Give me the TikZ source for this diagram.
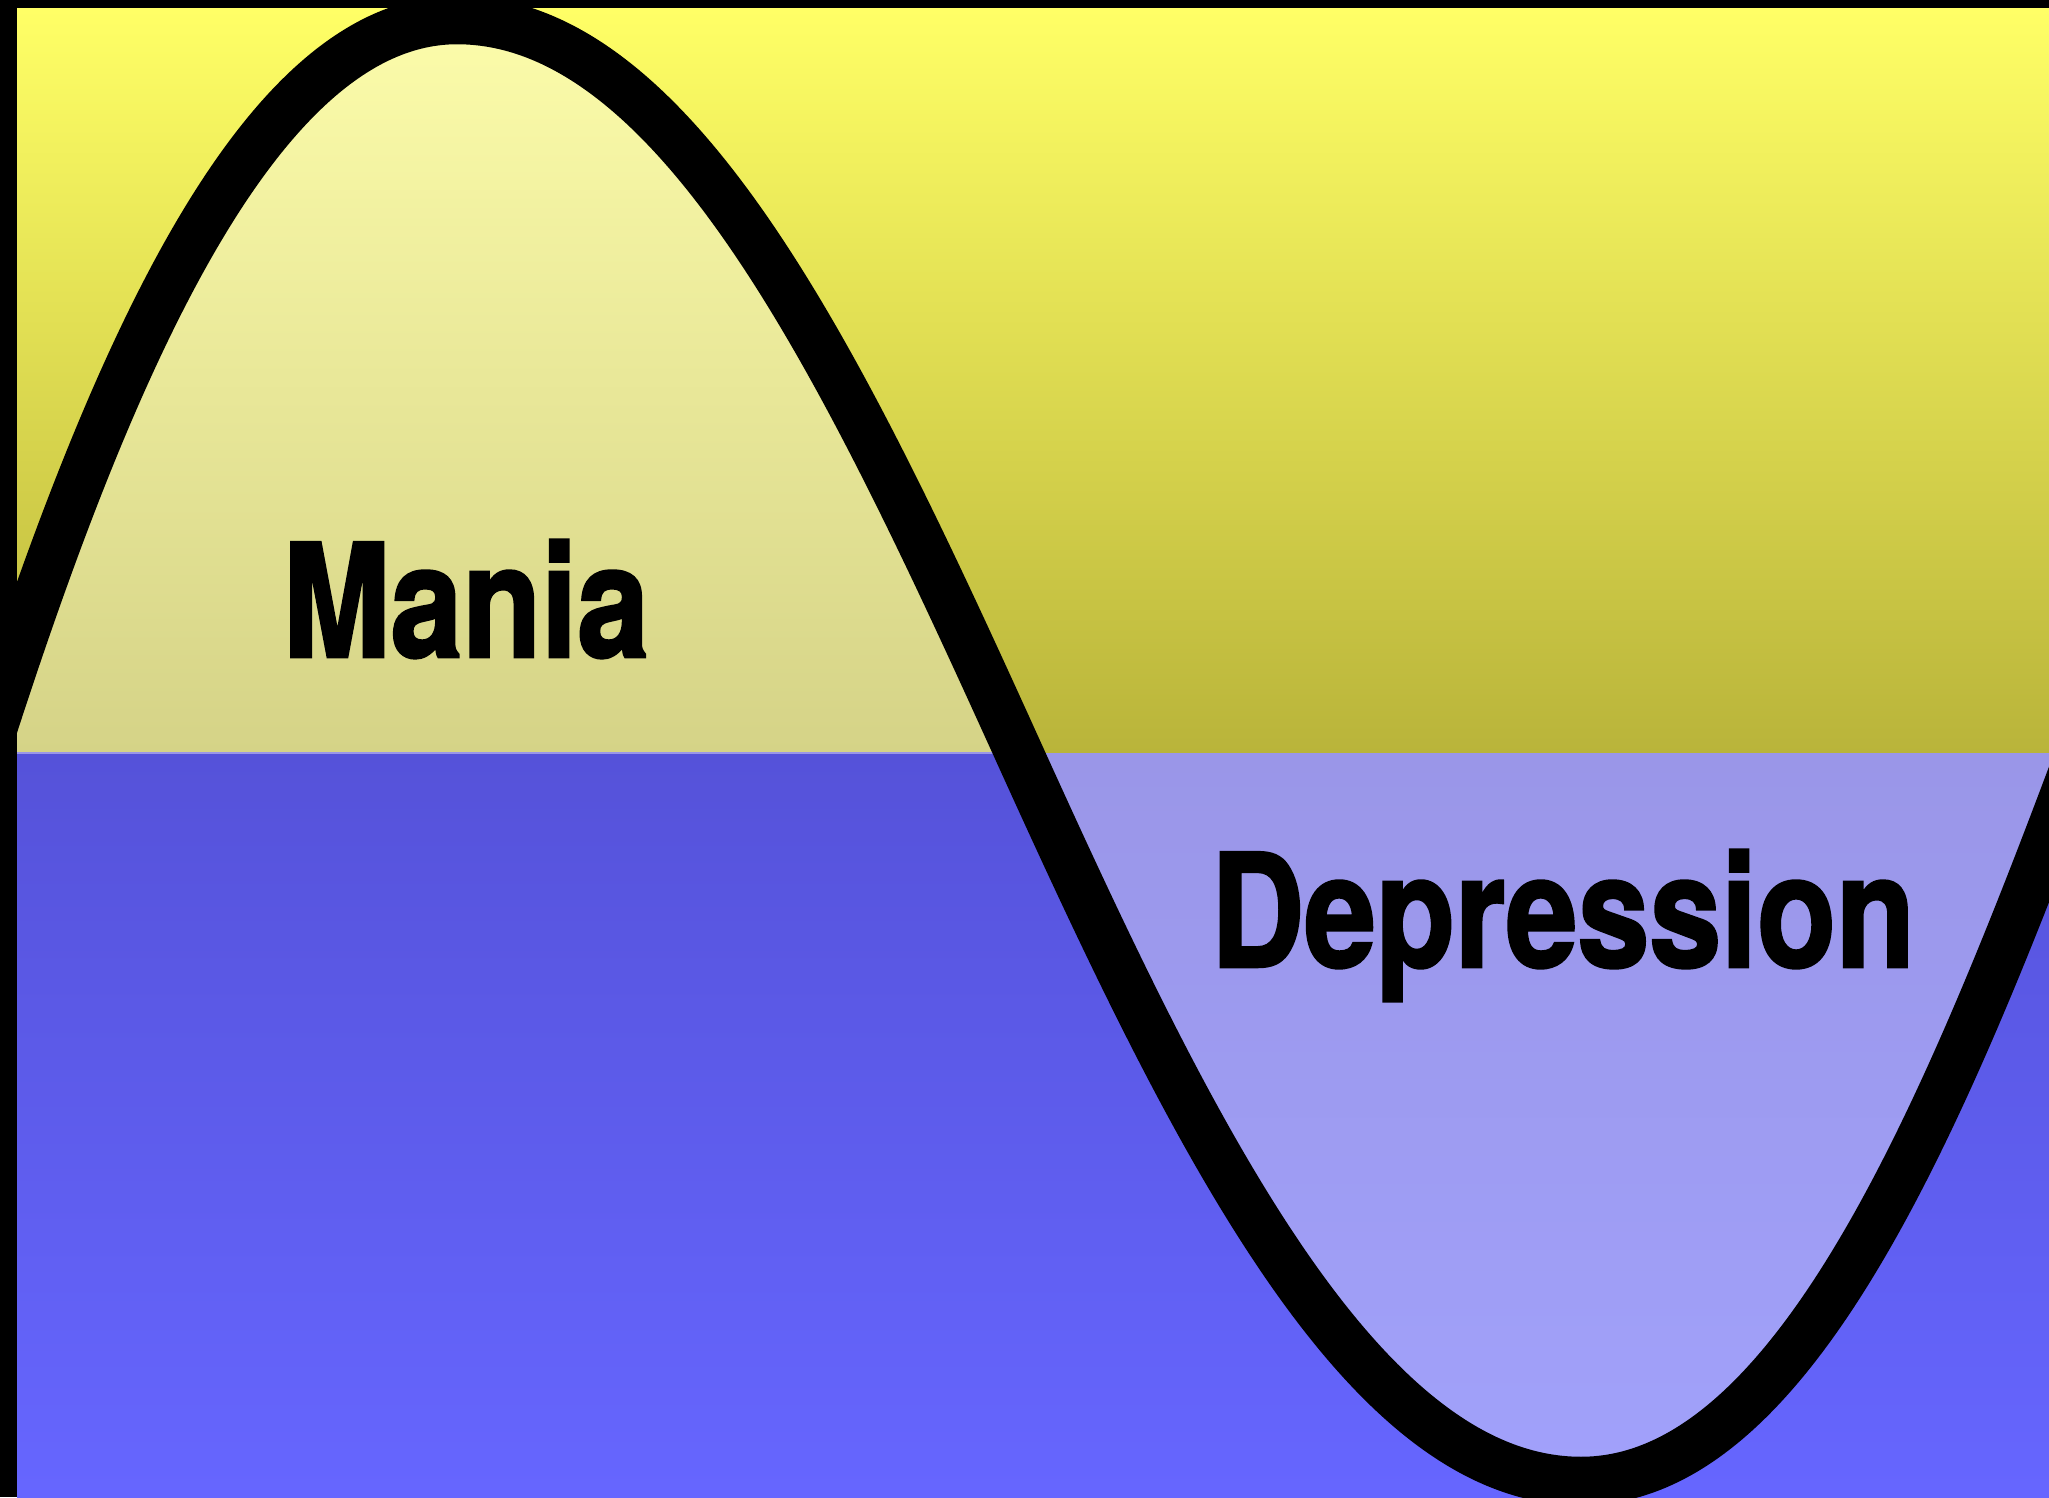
\documentclass[tikz,border=0pt]{standalone}
\usepackage{fontspec}
\usepackage{tikz}
\newfontfamily\etiqfont{TeX Gyre Heros}[FakeStretch=0.82, FakeBold=1.6]
\definecolor{amarilloArriba}{RGB}{255,255,102}
\definecolor{amarilloAbajo}{RGB}{185,180,58}
\definecolor{maniaArriba}{RGB}{252,252,170}
\definecolor{maniaAbajo}{RGB}{213,211,135}
\definecolor{azulArriba}{RGB}{85,82,217}
\definecolor{azulAbajo}{RGB}{102,102,255}
\definecolor{depreArriba}{RGB}{154,150,232}
\definecolor{depreAbajo}{RGB}{161,161,251}

\begin{document}
\begin{tikzpicture}[x=0.01cm, y=-0.01cm,
  onda/.style={draw=black, line width=0.485cm},
  etiqueta/.style={font=\etiqfont\bfseries\fontsize{44.8}{50}\selectfont, anchor=base, inner sep=0pt}]
  \useasboundingbox (0,0) rectangle (2049,1497);
  % Marco
  \fill[black] (0,0) rectangle (2049,1497);

  % Puntos de la onda
  \coordinate (c0) at (-15,753);
  \coordinate (cima) at (457,20);
  \coordinate (c1) at (1019,753);
  \coordinate (valle) at (1581,1481);
  \coordinate (c2) at (2080,753);
  \coordinate (borde) at (17,753);

  \begin{scope}
    \clip (17,9) rectangle (2049,1497);
    % Fondo
    \shade[top color=amarilloArriba, bottom color=amarilloAbajo] (17,9) rectangle (2049,753);
    \shade[top color=azulArriba, bottom color=azulAbajo] (17,753) rectangle (2049,1497);

    % Rellenos
    \shade[top color=maniaArriba, bottom color=maniaAbajo]
      (c0) .. controls (105,378) and (255,20) .. (cima)
           .. controls (680,20) and (849,378) .. (c1) -- cycle;
    \shade[top color=depreArriba, bottom color=depreAbajo]
      (c1) .. controls (1189,1128) and (1360,1481) .. (valle)
           .. controls (1790,1481) and (1940,1128) .. (c2) -- cycle;
    \draw[depreArriba, line width=0.02cm] (borde) -- (c1);

    % Curva
    \draw[onda] (c0) .. controls (105,378) and (255,20) .. (cima)
                     .. controls (680,20) and (849,378) .. (c1)
                     .. controls (1189,1128) and (1360,1481) .. (valle)
                     .. controls (1790,1481) and (1940,1128) .. (c2);
  \end{scope}

  % Etiquetas
  \node[etiqueta] (mania) at (466,657) {Mania};
  \node[etiqueta] (depresion) at (1563,967) {Depression};
\end{tikzpicture}
\end{document}
